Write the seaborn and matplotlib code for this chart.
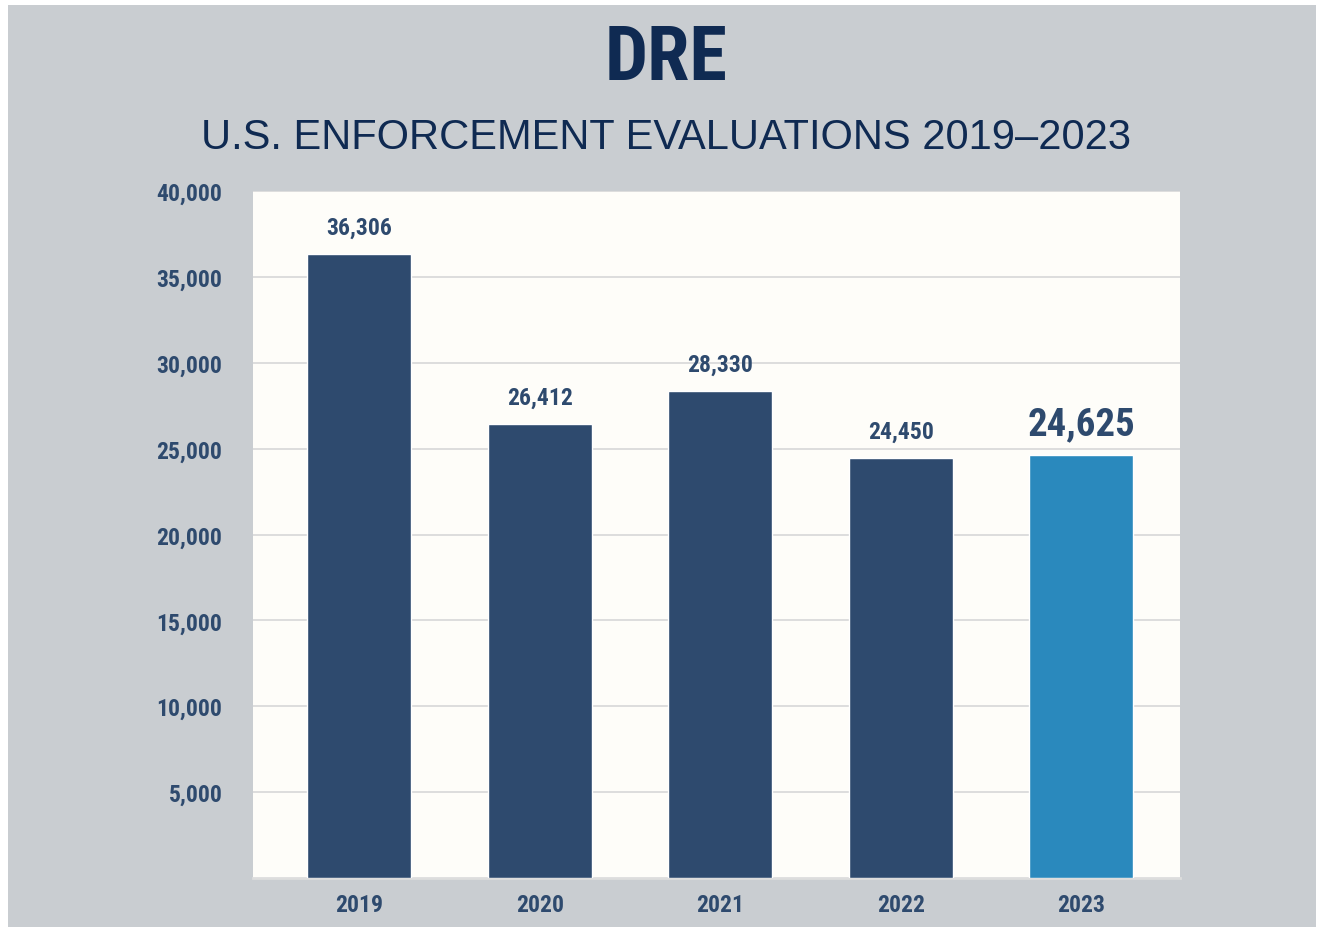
import matplotlib
matplotlib.use("Agg")
import matplotlib.pyplot as plt
import matplotlib.patches as mpatches
from matplotlib.ticker import FuncFormatter
from matplotlib import font_manager
import seaborn as sns
import pandas as pd

# data
years = ["2019", "2020", "2021", "2022", "2023"]
evaluations = [36306, 26412, 28330, 24450, 24625]
y_ticks = [5000, 10000, 15000, 20000, 25000, 30000, 35000, 40000]

title = "DRE"
subtitle = "U.S. ENFORCEMENT EVALUATIONS 2019\u20132023"

# colours
BG_GRAY = "#c9cdd1"
PLOT_BG = "#fefdf9"
NAVY = "#2e4a6e"
HIGHLIGHT = "#2a89bd"
TITLE_NAVY = "#0f2a52"
GRID = "#dddddd"

# pick a narrow family if one is around
installed = {f.name for f in font_manager.fontManager.ttflist}
narrow = [n for n in ["Roboto Condensed", "Liberation Sans Narrow", "DejaVu Sans Condensed",
                      "Open Sans Condensed", "Roboto"] if n in installed]
COND = narrow[:1] + ["DejaVu Sans"]
REG = ["Liberation Sans", "DejaVu Sans"]

sns.set_style("white")
plt.rcParams["font.family"] = COND

df = pd.DataFrame({"year": years, "evaluations": evaluations})
palette = [NAVY] * (len(years) - 1) + [HIGHLIGHT]

fig = plt.figure(figsize=(13.2, 9.28), dpi=100, facecolor="white")
# gray panel behind everything (thin white margin on the edges like the source)
fig.patches.append(mpatches.Rectangle((8 / 1320, 0), 1308 / 1320, 922 / 928,
                                      transform=fig.transFigure, facecolor=BG_GRAY,
                                      edgecolor="none", zorder=-10))

ax = fig.add_axes([253 / 1320, 1 - 879 / 928, 927 / 1320, 687 / 928])
ax.set_zorder(1)
ax.set_facecolor(PLOT_BG)

sns.barplot(data=df, x="year", y="evaluations", hue="year", palette=palette,
            legend=False, width=0.576, saturation=1, ax=ax, zorder=3)

ax.set_xlim(-0.588, 4.547)
ax.set_ylim(0, 40000)
ax.set_yticks(y_ticks)
ax.yaxis.set_major_formatter(FuncFormatter(lambda v, p: f"{int(v):,}"))
ax.grid(axis="y", color=GRID, linewidth=1.4, zorder=0)
ax.set_axisbelow(True)
ax.set_xlabel("")
ax.set_ylabel("")

for side in ["top", "left", "right"]:
    ax.spines[side].set_visible(False)
ax.spines["bottom"].set_color(GRID)
ax.spines["bottom"].set_linewidth(2)

ax.tick_params(axis="y", length=0, pad=22, labelsize=17, labelcolor=NAVY)
ax.tick_params(axis="x", length=0, pad=11, labelsize=17, labelcolor=NAVY)
for lab in ax.get_xticklabels() + ax.get_yticklabels():
    lab.set_fontweight("bold")
    lab.set_family(COND)

# value labels
for i, v in enumerate(evaluations):
    last = i == len(evaluations) - 1
    ax.annotate(f"{v:,}", xy=(i, v), xytext=(0, 9 if last else 11),
                textcoords="offset points", ha="center", va="bottom",
                fontsize=28 if last else 17, fontweight="bold", color=NAVY,
                family=COND, zorder=5)

fig.text(666 / 1320, 1 - 59 / 928, title, ha="center", va="center",
         fontsize=55, fontweight="bold", color=TITLE_NAVY, family=COND)
fig.text(666 / 1320, 1 - 138 / 928, subtitle, ha="center", va="center",
         fontsize=30, color=TITLE_NAVY, family=REG)

fig.savefig("out.png", dpi=100, facecolor=fig.get_facecolor())
